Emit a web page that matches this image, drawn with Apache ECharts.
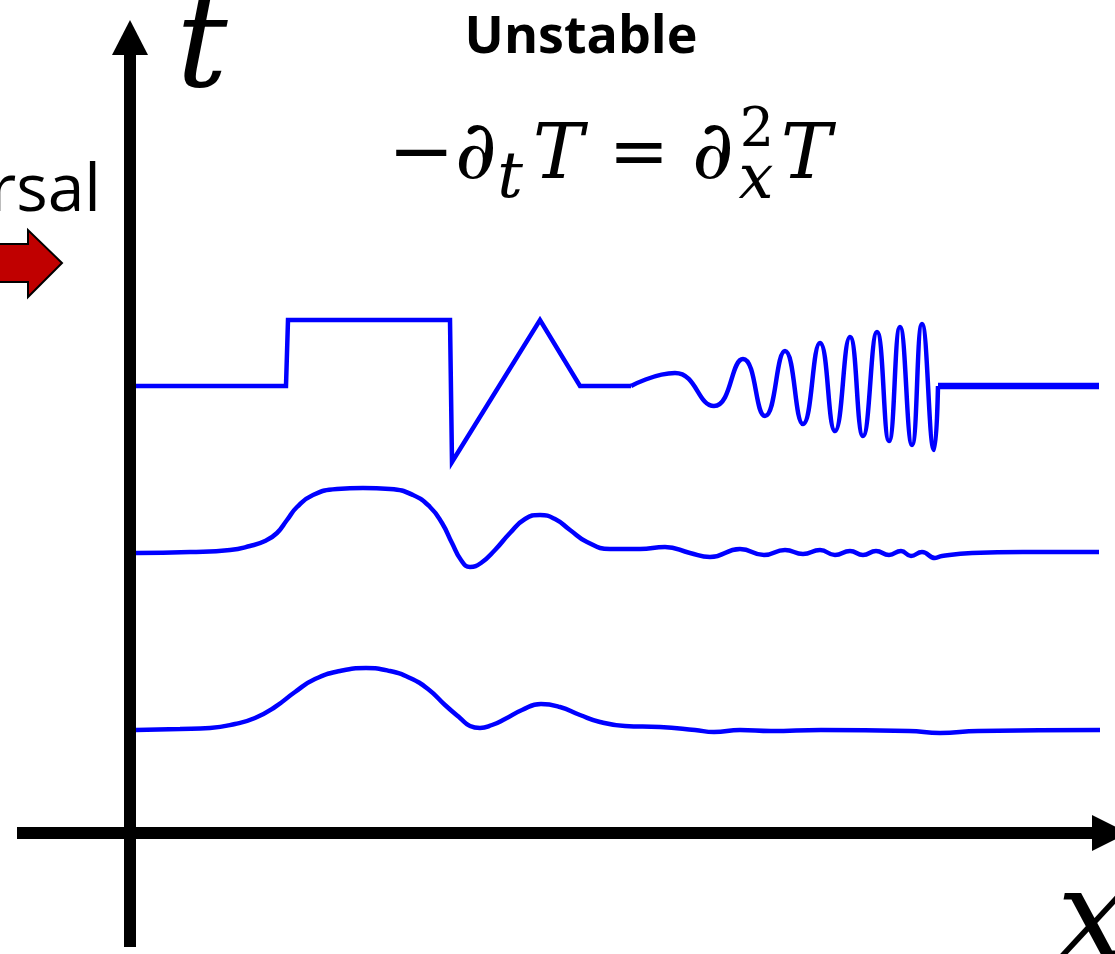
<!DOCTYPE html>
<html>
<head>
<meta charset="utf-8">
<title>Unstable</title>
<script src="https://cdn.jsdelivr.net/npm/echarts@6/dist/echarts.min.js"></script>
<style>
  html, body { margin: 0; padding: 0; background: #fff; }
  #chart { width: 1115px; height: 954px; }
</style>
</head>
<body>
<div id="chart"></div>
<script>
// x is measured from the t axis, t upward from the x axis
// top profile: box + triangle part (straight segments)
var stepX = [6, 156, 158, 320, 322, 410, 450, 501];
var stepT = [447, 447, 513, 513, 371, 513, 447, 447];
// top profile: growing wave part
var chirpX = [501, 545, 584, 613, 635, 655, 673, 690, 705, 720, 733, 747, 759, 770, 782, 792, 804, 808];
var chirpT = [447, 460, 427, 474, 417, 482, 409, 490, 402, 496, 397, 501, 392, 506, 388, 509, 383, 447];
// top profile: flat tail
var tailX = [808, 969];
var tailT = [447, 447];

// middle profile
var midX = [6, 60, 100, 120, 135, 147, 157, 167, 183, 207, 233, 260, 283, 300, 312, 322, 331, 340, 351, 365,
  380, 395, 410, 425, 440, 457, 480, 510, 535, 560, 580, 610, 634, 655, 673, 690, 705, 720, 733, 746,
  759, 771, 781, 792, 805, 812, 842, 893, 969];
var midT = [280, 281, 283, 287, 292, 300, 313, 326, 338, 344, 345, 344, 338, 326, 310, 290, 273, 266, 270, 283,
  300, 314, 318, 314, 303, 291, 284, 284, 286, 280, 276, 284, 278, 283, 279, 283, 278, 282, 278, 282,
  278, 282, 277, 281, 275, 277, 280, 281, 281];

// bottom profile
var lowX = [6, 50, 80, 105, 125, 145, 165, 185, 210, 236, 260, 280, 298, 315, 330, 340, 350, 362, 375, 392,
  411, 430, 450, 470, 495, 530, 565, 584, 610, 641, 691, 779, 810, 848, 970];
var lowT = [103, 104, 105, 109, 115, 126, 141, 154, 162, 165, 162, 155, 144, 128, 115, 107, 105, 108, 114, 123,
  129, 126, 118, 111, 107, 106, 103, 101, 103, 102, 103, 102, 100, 102, 103];

function pairs(xs, ts) {
  return xs.map(function (x, i) { return [x, ts[i]]; });
}

function profile(xs, ts, smooth, width) {
  return {
    type: 'line',
    data: pairs(xs, ts),
    smooth: smooth,
    symbol: 'none',
    silent: true,
    lineStyle: { color: '#0000ff', width: width, join: 'miter' }
  };
}

function glyph(text, x, y, size, family, opts) {
  opts = opts || {};
  return {
    type: 'text',
    x: x,
    y: y,
    silent: true,
    style: {
      text: text,
      fontSize: size,
      fontFamily: family,
      fontStyle: opts.italic ? 'italic' : 'normal',
      fontWeight: opts.bold ? 'bold' : 'normal',
      fill: '#000',
      align: opts.align || 'center',
      verticalAlign: 'middle'
    }
  };
}

var serif = 'DejaVu Serif';
var sans = 'Open Sans';

var myChart = echarts.init(document.getElementById('chart'));
myChart.setOption({
  animation: false,
  backgroundColor: '#fff',
  grid: { left: 17, right: 5, top: 37.5, bottom: 7 },
  xAxis: {
    type: 'value',
    min: -113,
    max: 980,
    axisLine: {
      onZero: true,
      symbol: ['none', 'triangle'],
      symbolSize: [36, 36],
      lineStyle: { color: '#000', width: 12, cap: 'butt' }
    },
    axisTick: { show: false },
    axisLabel: { show: false },
    splitLine: { show: false }
  },
  yAxis: {
    type: 'value',
    min: -114,
    max: 795.5,
    axisLine: {
      onZero: true,
      symbol: ['none', 'triangle'],
      symbolSize: [36, 35],
      lineStyle: { color: '#000', width: 12, cap: 'butt' }
    },
    axisTick: { show: false },
    axisLabel: { show: false },
    splitLine: { show: false }
  },
  series: [
    profile(stepX, stepT, false, 4.5),
    profile(chirpX, chirpT, 0.5, 4.5),
    profile(tailX, tailT, false, 6.5),
    profile(midX, midT, 0.5, 4.5),
    profile(lowX, lowT, 0.5, 4.5)
  ],
  graphic: [
    {
      type: 'polygon',
      silent: true,
      shape: { points: [[-10, 244], [28, 244], [28, 230], [62, 263], [28, 297], [28, 282], [-10, 282]] },
      style: { fill: '#c00000', stroke: '#000', lineWidth: 2 }
    },
    glyph('rsal', 101, 192, 66, sans, { align: 'right' }),
    glyph('Unstable', 581, 38, 52, sans, { bold: true }),
    glyph('t', 202, 53, 128, serif, { italic: true }),
    glyph('x', 1092, 925, 124, serif, { italic: true }),
    // -d_t T = d_x^2 T
    glyph('\u2212', 421, 157, 80, serif),
    glyph('\u2202', 476, 157, 82, serif, { italic: true }),
    glyph('t', 510, 180, 64, serif, { italic: true }),
    glyph('T', 558, 158, 76, serif, { italic: true }),
    glyph('=', 639, 157, 72, serif),
    glyph('\u2202', 713, 157, 82, serif, { italic: true }),
    glyph('2', 757, 132, 54, serif),
    glyph('x', 756, 182, 62, serif, { italic: true }),
    glyph('T', 806, 158, 76, serif, { italic: true })
  ]
});
</script>
</body>
</html>
